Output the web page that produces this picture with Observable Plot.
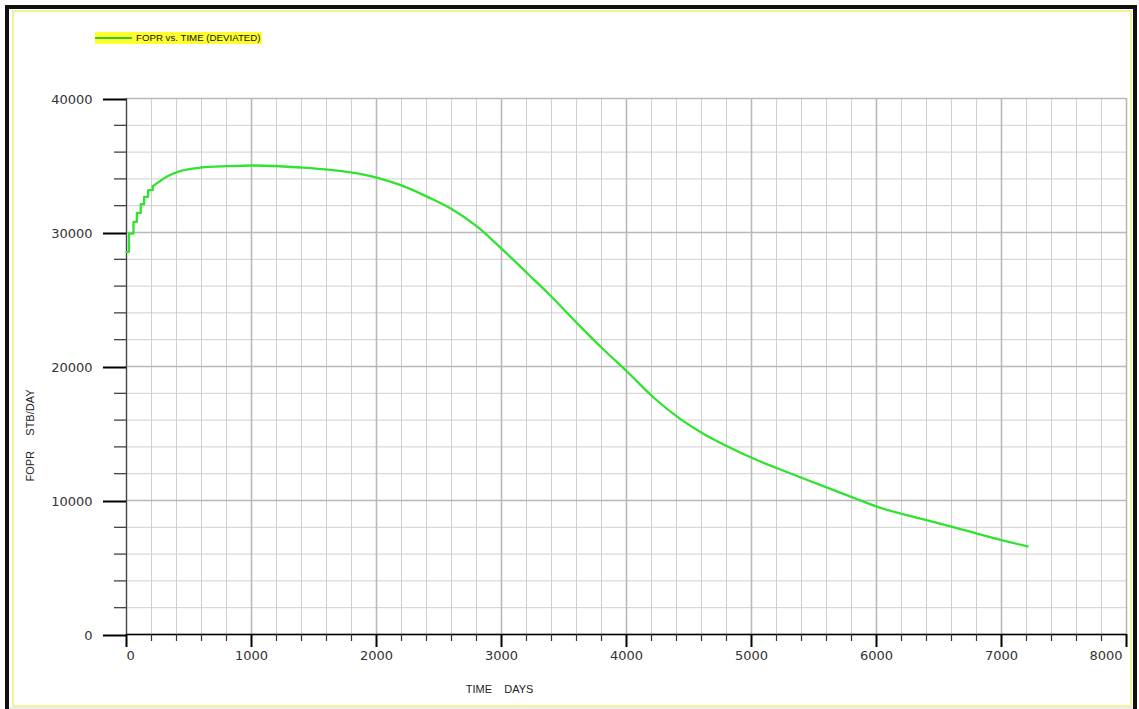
<!DOCTYPE html>
<html>
<head>
<meta charset="utf-8">
<script src="https://cdn.jsdelivr.net/npm/d3@7"></script>
<script src="https://cdn.jsdelivr.net/npm/@observablehq/plot@0.6"></script>
<style>
  html, body { margin: 0; padding: 0; background: #fff; }
  body { width: 1139px; height: 709px; overflow: hidden; position: relative; font-family: "Liberation Sans", Arial, sans-serif; }
  #outer { position: absolute; left: 5px; top: 5px; width: 1132px; height: 730px; border: 4px solid #111; border-bottom: none; box-sizing: border-box; }
  #inner { position: absolute; left: 12px; top: 10px; width: 1120px; height: 697px; border: 2px solid #f2f29c; box-sizing: border-box; }
  #foot { position: absolute; left: 9px; top: 707px; width: 1124px; height: 2px; background: #ececec; }
  #chart { position: absolute; left: 0; top: 0; }
  #legend { position: absolute; left: 95px; top: 32px; width: 167px; height: 12px; background: #ffff2e; }
  #legend .swatch { position: absolute; left: 0; top: 5px; width: 37px; height: 2px; background: #39c43a; }
  #legend .label { position: absolute; left: 41px; top: 0; font-size: 9.7px; line-height: 12px; color: #111; white-space: nowrap; }
</style>
</head>
<body>
<div id="outer"></div>
<div id="inner"></div>
<div id="foot"></div>
<div id="chart"></div>
<div id="legend"><div class="swatch"></div><div class="label">FOPR vs. TIME (DEVIATED)</div></div>
<script>
// Field oil production rate (STB/DAY) against simulation time (days)
// Early report steps, drawn as a staircase
const startTimeDays = [0, 20, 56, 83, 114, 141, 173, 210];
const startFoprRate = [28550, 29920, 30790, 31460, 32110, 32660, 33160, 33450];

// Remaining history
const timeDays = [210, 234, 328, 435, 594, 808, 1000, 1394, 1794, 2002, 2194, 2408, 2594, 2808,
  3000, 3208, 3402, 3608, 3808, 4008, 4221, 4421, 4621, 4821, 5016, 5221, 5421, 5621, 5821,
  6008, 6408, 6621, 7008, 7208];
const foprRate = [33450, 33610, 34200, 34600, 34850, 34950, 35000, 34850, 34480, 34100, 33530, 32660, 31790, 30420,
  28800, 26940, 25190, 23200, 21340, 19590, 17650, 16150, 14950, 13980, 13130, 12350, 11620, 10900, 10190,
  9530, 8510, 7990, 7020, 6570];

// Axis ticks
const xMajorTicks = [0, 1000, 2000, 3000, 4000, 5000, 6000, 7000, 8000];
const yMajorTicks = [0, 10000, 20000, 30000, 40000];
const xMinorTicks = d3.range(0, 8001, 200).filter(v => v % 1000 !== 0);
const yMinorTicks = d3.range(0, 40001, 2000).filter(v => v % 10000 !== 0);

const xTitle = "TIME\u00a0\u00a0\u00a0\u00a0DAYS";
const yTitle = "FOPR\u00a0\u00a0\u00a0\u00a0\u00a0STB/DAY";

const startSeries = startTimeDays.map((t, i) => ({t, v: startFoprRate[i]}));
const series = timeDays.map((t, i) => ({t, v: foprRate[i]}));

const lineColor = "#2fe32f";
const tickFont = "DejaVu Sans";

const chart = Plot.plot({
  width: 1139,
  height: 709,
  marginLeft: 126,
  marginRight: 13,
  marginTop: 98,
  marginBottom: 75,
  x: {domain: [0, 8000], label: null},
  y: {domain: [0, 40000], label: null},
  style: {background: "transparent", overflow: "visible", fontFamily: tickFont},
  marks: [
    // grid
    Plot.ruleX(xMinorTicks, {stroke: "#cfcfcf", strokeWidth: 1}),
    Plot.ruleY(yMinorTicks, {stroke: "#cfcfcf", strokeWidth: 1}),
    Plot.ruleX(xMajorTicks, {stroke: "#b9b9b9", strokeWidth: 1.6}),
    Plot.ruleY(yMajorTicks, {stroke: "#b9b9b9", strokeWidth: 1.6}),

    // y axis
    Plot.ruleX([0], {stroke: "#444", strokeWidth: 1.2}),
    Plot.axisY(yMinorTicks, {tickSize: 12, stroke: "#333", strokeWidth: 1.2, tickFormat: () => ""}),
    Plot.axisY(yMajorTicks, {tickSize: 23, tickPadding: 11, stroke: "#000", strokeWidth: 2,
      fontSize: 13, fill: "#333", dy: 1, tickFormat: d => `${d}`}),

    // x axis
    Plot.ruleY([0], {stroke: "#000", strokeWidth: 1.6}),
    Plot.axisX(xMinorTicks, {tickSize: 7, stroke: "#333", strokeWidth: 1.2, tickFormat: () => ""}),
    Plot.axisX(xMajorTicks, {tickSize: 13, stroke: "#000", strokeWidth: 2, tickFormat: () => ""}),
    Plot.text(xMajorTicks.slice(1, -1), {x: d => d, text: d => `${d}`, frameAnchor: "bottom", dy: 21,
      lineAnchor: "middle", textAnchor: "middle", fontSize: 13, fill: "#333"}),
    Plot.text(xMajorTicks.slice(0, 1), {x: d => d, text: d => `${d}`, frameAnchor: "bottom", dy: 21,
      lineAnchor: "middle", textAnchor: "start", fontSize: 13, fill: "#333"}),
    Plot.text(xMajorTicks.slice(-1), {x: d => d, text: d => `${d}`, frameAnchor: "bottom", dy: 21, dx: -4,
      lineAnchor: "middle", textAnchor: "end", fontSize: 13, fill: "#333"}),

    // axis titles
    Plot.text([xTitle], {text: d => d, frameAnchor: "bottom", dx: -127, dy: 55,
      lineAnchor: "middle", textAnchor: "middle", fontSize: 11, fontFamily: "Liberation Sans", fill: "#222"}),
    Plot.text([yTitle], {text: d => d, frameAnchor: "left", dx: -96, dy: 69, rotate: -90,
      lineAnchor: "middle", textAnchor: "middle", fontSize: 11, fontFamily: "Liberation Sans", fill: "#222"}),

    // FOPR curve
    Plot.line(startSeries, {x: "t", y: "v", stroke: lineColor, strokeWidth: 2.3, curve: "step-after"}),
    Plot.line(series, {x: "t", y: "v", stroke: lineColor, strokeWidth: 2.3, curve: "monotone-x"})
  ]
});

document.getElementById("chart").append(chart);
</script>
</body>
</html>
